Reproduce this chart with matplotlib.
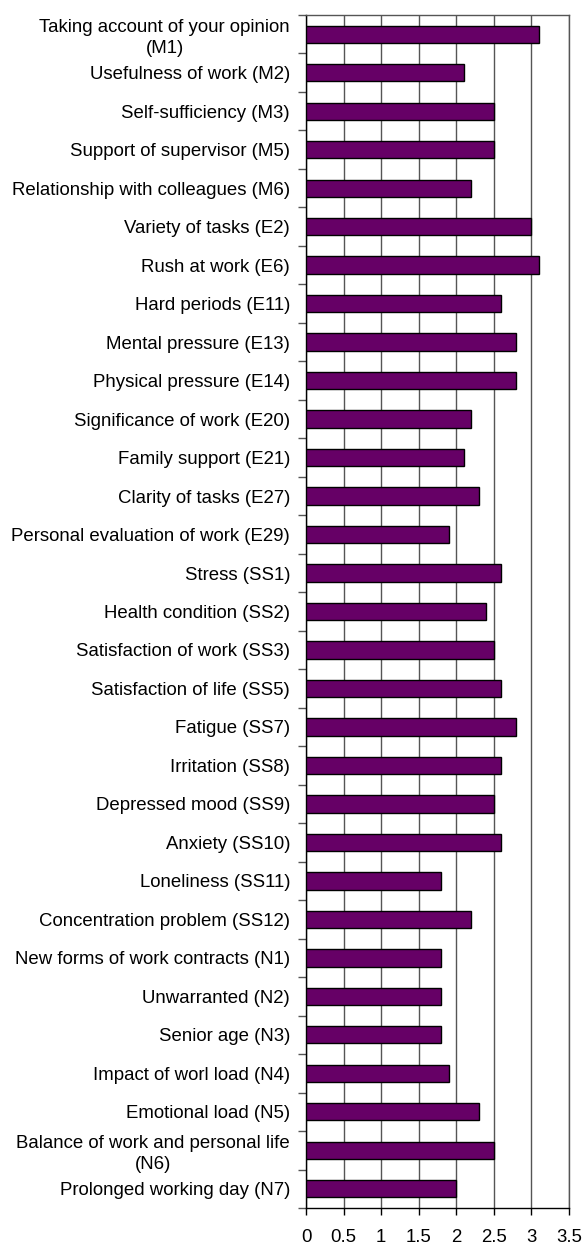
import matplotlib
matplotlib.use("Agg")
import matplotlib.pyplot as plt
import numpy as np

plt.rcParams['font.family'] = ['Liberation Sans', 'DejaVu Sans']

categories = [
    "Taking account of your opinion\n(M1)",
    "Usefulness of work (M2)",
    "Self-sufficiency (M3)",
    "Support of supervisor (M5)",
    "Relationship with colleagues (M6)",
    "Variety of tasks (E2)",
    "Rush at work (E6)",
    "Hard periods (E11)",
    "Mental pressure (E13)",
    "Physical pressure (E14)",
    "Significance of work (E20)",
    "Family support (E21)",
    "Clarity of tasks (E27)",
    "Personal evaluation of work (E29)",
    "Stress (SS1)",
    "Health condition (SS2)",
    "Satisfaction of work (SS3)",
    "Satisfaction of life (SS5)",
    "Fatigue (SS7)",
    "Irritation (SS8)",
    "Depressed mood (SS9)",
    "Anxiety (SS10)",
    "Loneliness (SS11)",
    "Concentration problem (SS12)",
    "New forms of work contracts (N1)",
    "Unwarranted (N2)",
    "Senior age (N3)",
    "Impact of worl load (N4)",
    "Emotional load (N5)",
    "Balance of work and personal life\n(N6)",
    "Prolonged working day (N7)",
]
values = [3.1, 2.1, 2.5, 2.5, 2.2, 3.0, 3.1, 2.6, 2.8, 2.8, 2.2, 2.1, 2.3, 1.9,
          2.6, 2.4, 2.5, 2.6, 2.8, 2.6, 2.5, 2.6, 1.8, 2.2, 1.8, 1.8, 1.8, 1.9,
          2.3, 2.5, 2.0]
xticks = [0, 0.5, 1, 1.5, 2, 2.5, 3, 3.5]
xticklabels = ["0", "0.5", "1", "1.5", "2", "2.5", "3", "3.5"]

fig = plt.figure(figsize=(5.84, 12.45), dpi=100)
ax = fig.add_axes([306/584, 1 - 1208/1245, (569-306)/584, (1208-15)/1245])

n = len(categories)
y = np.arange(n)
ax.barh(y, values, height=0.45, color='#660066', edgecolor='black', linewidth=1.0, zorder=3)

ax.set_xlim(0, 3.5)
ax.set_ylim(n - 0.5, -0.5)
ax.set_xticks(xticks)
ax.set_xticklabels(xticklabels, fontsize=13.4)
ax.xaxis.grid(True, color='#555555', linewidth=1.0, zorder=0)

ax.set_yticks(np.arange(n + 1) - 0.5)
ax.set_yticklabels([])
ax.tick_params(axis='y', which='major', length=6, width=1, color='#555555', direction='out')
ax.set_yticks(y, minor=True)
ax.set_yticklabels(categories, minor=True, fontsize=13.4, multialignment='center',
                   linespacing=1.3)
ax.tick_params(axis='y', which='minor', length=0, pad=11.5)
ax.tick_params(axis='x', length=5, width=1, color='black', direction='out', pad=10)

for s in ax.spines.values():
    s.set_linewidth(1.0)
    s.set_color('black')
ax.spines['top'].set_color('#555555')
ax.spines['right'].set_color('#555555')

fig.savefig("out.png", dpi=100)
